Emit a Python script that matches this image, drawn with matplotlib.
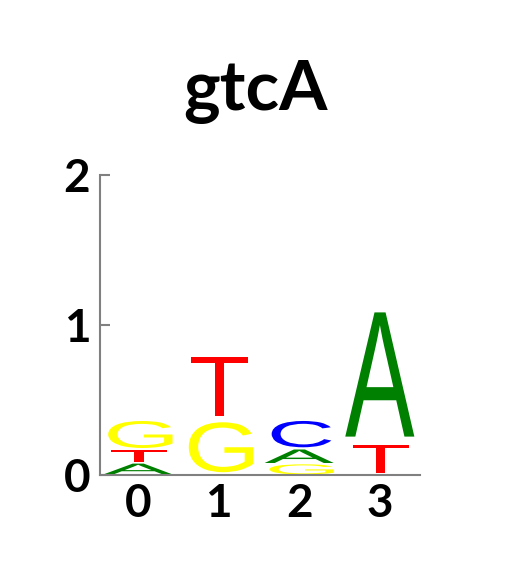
import matplotlib
matplotlib.use("Agg")
import matplotlib.pyplot as plt
from matplotlib.textpath import TextPath
from matplotlib.patches import PathPatch
from matplotlib.font_manager import FontProperties
from matplotlib.transforms import Affine2D
import numpy as np

title = "gtcA"
positions = [0, 1, 2, 3]
# letter heights (bits) per position, bottom-to-top order
stack_letters = [["A", "T", "G"], ["G", "T"], ["G", "A", "C"], ["T", "A"]]
stack_heights = [[0.08, 0.09, 0.20], [0.37, 0.44], [0.075, 0.10, 0.195], [0.21, 0.92]]
yticks = [0, 1, 2]

colors = {"A": "#008000", "C": "#0000ff", "G": "#ffff00", "T": "#ff0000"}
widths = {"A": 0.86, "C": 0.80, "G": 0.86, "T": 0.73}
vpad = 0.10

W, H = 520, 575
fig = plt.figure(figsize=(W / 100, H / 100), dpi=100)
ax = fig.add_axes([100 / W, 1 - 475 / H, 320 / W, 300 / H])

glyph_fp = FontProperties(family="Liberation Sans", weight="normal")


def draw_glyph(ax, ch, xc, y0, h, w, color):
    tp = TextPath((0, 0), ch, size=1, prop=glyph_fp)
    verts = tp.vertices
    xmin, ymin = verts.min(axis=0)
    xmax, ymax = verts.max(axis=0)
    gh = h * (1 - vpad)
    gy = y0 + h * vpad / 2
    tr = (Affine2D().translate(-xmin, -ymin)
          .scale(w / (xmax - xmin), gh / (ymax - ymin))
          .translate(xc - w / 2, gy))
    path = tr.transform_path(tp)
    ax.add_patch(PathPatch(path, facecolor=color, edgecolor="none", lw=0))


for pos, letters, heights in zip(positions, stack_letters, stack_heights):
    y = 0.0
    for ch, h in zip(letters, heights):
        draw_glyph(ax, ch, pos, y, h, widths[ch], colors[ch])
        y += h

ax.set_xlim(-0.47, 3.5)
ax.set_ylim(0, 2)
ax.set_xticks(positions)
ax.set_yticks(yticks)
tick_font = "Lato"
ax.set_xticklabels([str(p) for p in positions], fontsize=33, family=tick_font, fontweight="bold")
ax.set_yticklabels([str(t) for t in yticks], fontsize=33, family=tick_font, fontweight="bold")
ax.tick_params(axis="y", direction="in", length=7, width=1.5, color="#808080", pad=7)
ax.tick_params(axis="x", length=0, pad=6)
for s in ["top", "right"]:
    ax.spines[s].set_visible(False)
for s in ["left", "bottom"]:
    ax.spines[s].set_color("#808080")
    ax.spines[s].set_linewidth(1.5)

fig.text(255 / W, 1 - 110 / H, title, fontsize=50, fontweight="bold",
         family="Lato", ha="center", va="baseline")

fig.savefig("out.png", dpi=100)
